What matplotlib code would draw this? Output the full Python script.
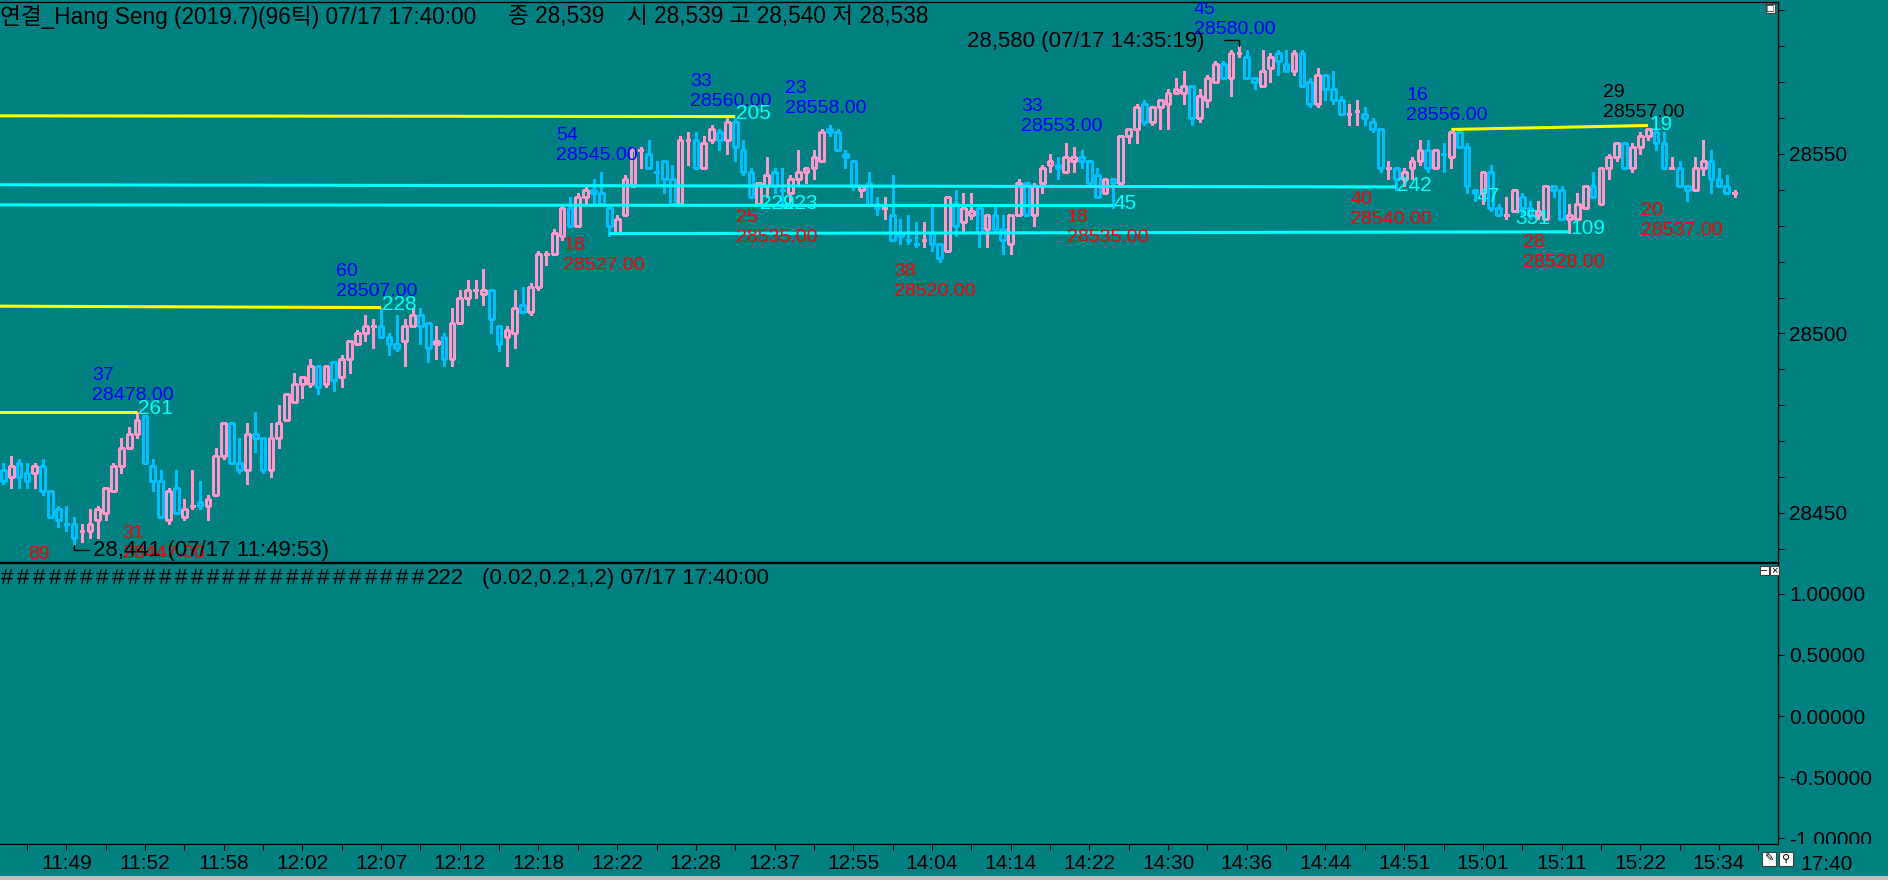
import matplotlib
matplotlib.use('Agg')
import matplotlib.pyplot as plt
from matplotlib.patches import Rectangle
from matplotlib.collections import LineCollection, PatchCollection
from matplotlib.ticker import FixedLocator, MultipleLocator, FormatStrFormatter
import numpy as np

plt.rcParams['font.family'] = ['Liberation Sans', 'Noto Sans CJK KR', 'DejaVu Sans']

# ---- 96-tick candles ----
opens = [28462, 28460, 28464, 28461, 28461, 28463, 28456, 28451, 28447, 28447,
         28445, 28445, 28448, 28450, 28456, 28463, 28468, 28472, 28477, 28463,
         28459, 28448, 28457, 28449, 28452, 28453, 28452, 28455, 28466, 28475,
         28464, 28462, 28472, 28471, 28462, 28471, 28476, 28481, 28486, 28486,
         28491, 28486, 28492, 28488, 28493, 28497, 28500, 28502, 28502, 28499,
         28497, 28498, 28502, 28505, 28503, 28497, 28499, 28493, 28503, 28510,
         28512, 28511, 28512, 28502, 28499, 28500, 28508, 28506, 28513, 28522,
         28522, 28527, 28535, 28530, 28538, 28540, 28539, 28535, 28528, 28533,
         28541, 28551, 28550, 28545, 28548, 28543, 28536, 28554, 28554, 28546,
         28554, 28556, 28554, 28559, 28551, 28545, 28536, 28541, 28545, 28540,
         28539, 28543, 28545, 28546, 28548, 28557, 28556, 28550, 28548, 28540,
         28542, 28536, 28535, 28533, 28528, 28526, 28525, 28526, 28528, 28525,
         28523, 28536, 28531, 28533, 28535, 28529, 28533, 28529, 28525, 28533,
         28542, 28533, 28542, 28547, 28547, 28545, 28548, 28549, 28548, 28544,
         28539, 28543, 28542, 28555, 28557, 28564, 28559, 28563, 28564, 28567,
         28567, 28569, 28560, 28565, 28570, 28575, 28571, 28578, 28577, 28571,
         28569, 28574, 28578, 28575, 28573, 28578, 28570, 28564, 28572, 28568,
         28565, 28561, 28562, 28561, 28559, 28557, 28546, 28546, 28543, 28546,
         28548, 28551, 28546, 28550, 28549, 28556, 28552, 28540, 28539, 28545,
         28535, 28533, 28534, 28538, 28535, 28533, 28532, 28541, 28540, 28532,
         28532, 28535, 28541, 28536, 28546, 28549, 28553, 28546, 28552, 28555,
         28556, 28553, 28546, 28546, 28541, 28540, 28546, 28548, 28543, 28541,
         28539]
highs = [28464, 28466, 28465, 28464, 28464, 28465, 28456, 28452, 28452, 28449,
         28447, 28451, 28452, 28457, 28464, 28471, 28474, 28478, 28477, 28465,
         28462, 28457, 28462, 28454, 28462, 28459, 28455, 28468, 28475, 28475,
         28471, 28475, 28478, 28471, 28475, 28480, 28483, 28489, 28488, 28493,
         28491, 28491, 28492, 28494, 28498, 28501, 28505, 28504, 28507, 28500,
         28505, 28504, 28507, 28507, 28503, 28502, 28500, 28507, 28512, 28515,
         28515, 28518, 28512, 28502, 28502, 28512, 28513, 28514, 28523, 28523,
         28529, 28536, 28538, 28539, 28541, 28543, 28545, 28536, 28533, 28544,
         28552, 28552, 28554, 28548, 28548, 28547, 28555, 28556, 28556, 28555,
         28558, 28557, 28560, 28560, 28554, 28546, 28542, 28549, 28546, 28546,
         28544, 28551, 28546, 28551, 28557, 28558, 28557, 28551, 28548, 28541,
         28545, 28538, 28538, 28544, 28532, 28533, 28531, 28531, 28536, 28525,
         28538, 28540, 28539, 28539, 28535, 28533, 28536, 28533, 28533, 28543,
         28542, 28542, 28547, 28550, 28549, 28553, 28552, 28551, 28548, 28546,
         28543, 28543, 28555, 28557, 28564, 28565, 28563, 28565, 28568, 28571,
         28573, 28569, 28568, 28572, 28576, 28576, 28579, 28580, 28579, 28571,
         28579, 28578, 28579, 28579, 28579, 28579, 28571, 28574, 28572, 28573,
         28566, 28564, 28565, 28563, 28560, 28557, 28548, 28546, 28546, 28549,
         28554, 28554, 28551, 28553, 28556, 28556, 28553, 28540, 28545, 28547,
         28536, 28538, 28540, 28539, 28537, 28537, 28541, 28541, 28541, 28536,
         28539, 28541, 28545, 28546, 28550, 28553, 28553, 28553, 28556, 28557,
         28557, 28556, 28549, 28548, 28541, 28549, 28554, 28551, 28546, 28544,
         28540]
lows = [28458, 28457, 28457, 28457, 28457, 28455, 28449, 28446, 28445, 28441,
        28442, 28443, 28443, 28448, 28456, 28461, 28468, 28471, 28464, 28456,
        28449, 28447, 28450, 28448, 28451, 28451, 28448, 28455, 28465, 28464,
        28461, 28458, 28467, 28461, 28460, 28468, 28476, 28481, 28482, 28485,
        28483, 28485, 28484, 28485, 28489, 28497, 28498, 28496, 28499, 28494,
        28495, 28491, 28502, 28497, 28492, 28493, 28491, 28491, 28503, 28508,
        28510, 28508, 28500, 28495, 28491, 28496, 28506, 28505, 28512, 28519,
        28522, 28526, 28530, 28530, 28536, 28536, 28536, 28527, 28528, 28533,
        28541, 28546, 28546, 28542, 28539, 28536, 28536, 28547, 28546, 28546,
        28553, 28551, 28550, 28548, 28544, 28538, 28536, 28538, 28539, 28535,
        28537, 28541, 28542, 28543, 28548, 28555, 28551, 28546, 28540, 28538,
        28536, 28533, 28532, 28526, 28525, 28525, 28524, 28524, 28523, 28520,
        28523, 28527, 28528, 28532, 28524, 28524, 28528, 28522, 28522, 28533,
        28533, 28530, 28539, 28545, 28543, 28545, 28545, 28546, 28542, 28538,
        28539, 28535, 28542, 28553, 28553, 28558, 28558, 28557, 28557, 28567,
        28564, 28558, 28559, 28563, 28570, 28571, 28566, 28577, 28571, 28568,
        28569, 28570, 28572, 28573, 28572, 28569, 28563, 28563, 28565, 28564,
        28561, 28558, 28558, 28558, 28556, 28545, 28543, 28540, 28541, 28543,
        28547, 28545, 28546, 28545, 28546, 28552, 28539, 28537, 28536, 28534,
        28533, 28532, 28534, 28533, 28532, 28532, 28532, 28538, 28532, 28528,
        28532, 28535, 28538, 28536, 28543, 28548, 28546, 28545, 28550, 28554,
        28551, 28546, 28546, 28541, 28537, 28540, 28544, 28539, 28541, 28540,
        28538]
closes = [28459, 28463, 28460, 28459, 28463, 28456, 28449, 28448, 28447, 28443,
          28445, 28447, 28451, 28457, 28463, 28468, 28472, 28476, 28464, 28459,
          28449, 28456, 28450, 28451, 28452, 28452, 28454, 28466, 28475, 28464,
          28462, 28472, 28471, 28462, 28471, 28475, 28483, 28486, 28488, 28491,
          28485, 28491, 28487, 28493, 28498, 28500, 28502, 28502, 28499, 28497,
          28496, 28502, 28505, 28502, 28496, 28498, 28493, 28503, 28510, 28512,
          28512, 28512, 28504, 28497, 28501, 28507, 28506, 28513, 28522, 28522,
          28528, 28535, 28530, 28538, 28540, 28539, 28536, 28530, 28532, 28543,
          28551, 28551, 28546, 28545, 28543, 28536, 28554, 28554, 28546, 28553,
          28557, 28554, 28559, 28552, 28545, 28538, 28542, 28544, 28541, 28540,
          28543, 28545, 28546, 28549, 28556, 28556, 28551, 28549, 28541, 28541,
          28536, 28535, 28535, 28526, 28527, 28526, 28525, 28526, 28525, 28521,
          28538, 28530, 28535, 28534, 28528, 28533, 28529, 28526, 28533, 28542,
          28533, 28541, 28546, 28548, 28546, 28549, 28549, 28548, 28542, 28538,
          28543, 28542, 28555, 28557, 28563, 28559, 28563, 28565, 28567, 28568,
          28569, 28560, 28566, 28571, 28575, 28571, 28578, 28578, 28571, 28570,
          28573, 28577, 28576, 28573, 28578, 28569, 28564, 28572, 28568, 28565,
          28561, 28561, 28562, 28560, 28557, 28546, 28546, 28543, 28545, 28548,
          28551, 28546, 28551, 28550, 28556, 28552, 28541, 28539, 28545, 28535,
          28533, 28533, 28540, 28535, 28533, 28534, 28541, 28540, 28532, 28533,
          28536, 28541, 28538, 28546, 28549, 28553, 28546, 28552, 28555, 28557,
          28553, 28546, 28546, 28541, 28540, 28546, 28548, 28543, 28541, 28539,
          28539]

time_labels = ['11:49', '11:52', '11:58', '12:02', '12:07', '12:12', '12:18', '12:22',
               '12:28', '12:37', '12:55', '14:04', '14:14', '14:22', '14:30', '14:36',
               '14:44', '14:51', '15:01', '15:11', '15:22', '15:34']
time_label_idx = list(range(8, 219, 10))

# pivot lines: (start bar, start price, end bar, end price)
yellow_lines = [(-0.5, 28478.0, 17, 28478.0), (-0.5, 28507.6, 48, 28507.2),
                (-0.5, 28560.6, 93, 28560.4), (184, 28556.8, 209, 28557.9)]
cyan_lines = [(-0.5, 28541.4, 177, 28540.8), (-0.5, 28535.8, 141, 28535.6),
              (77, 28527.8, 199, 28528.3)]

# pivot labels: (bar, price, count)
high_labels = [(17, 28478, '37'), (48, 28507, '60'), (76, 28545, '54'), (93, 28560, '33'),
               (105, 28558, '23'), (135, 28553, '33'), (157, 28580, '45'), (184, 28556, '16')]
last_high_label = (209, 28557, '29')
low_labels = [(9, 28441, '89'), (21, 28447, '31'), (77, 28527, '18'), (99, 28535, '25'),
              (119, 28520, '38'), (141, 28535, '18'), (177, 28540, '40'), (199, 28528, '28'),
              (214, 28537, '20')]
line_counts = [(17, 28478, '261'), (48, 28507, '228'), (93, 28560, '205'), (96, 28535, '229'),
               (99, 28535, '223'), (141, 28535, '45'), (177, 28540, '242'), (187, 28537, '47'),
               (192, 28531, '351'), (199, 28528, '109'), (209, 28557, '19')]

TEAL = '#008080'
PINK = '#FF99CC'
BLUE = '#00BFFF'

W, H = 1888, 880
def fx(px):
    return px / W
def fy(py):
    return 1 - py / H

fig = plt.figure(figsize=(W / 100, H / 100), dpi=100, facecolor=TEAL)
ax = fig.add_axes([0, fy(562), fx(1778), 560 / H], facecolor=TEAL)
ax2 = fig.add_axes([0, fy(844), fx(1778), 281 / H], facecolor=TEAL, sharex=ax)

# candles
n = len(opens)
w = 0.6
bodies, body_cols, segs, seg_cols = [], [], [], []
for i in range(n):
    o, h, l, c = opens[i], highs[i], lows[i], closes[i]
    if c > o:
        col = PINK
    elif c < o:
        col = BLUE
    else:
        col = PINK if i == 0 or c >= closes[i - 1] else BLUE
    top, bot = max(o, c), min(o, c)
    if top == bot:
        segs.append([(i - w / 2, top), (i + w / 2, top)])
        seg_cols.append(col)
    else:
        bodies.append(Rectangle((i - w / 2, bot), w, top - bot))
        body_cols.append(col)
    if h > top:
        segs.append([(i, top), (i, h)])
        seg_cols.append(col)
    if l < bot:
        segs.append([(i, l), (i, bot)])
        seg_cols.append(col)

ax.add_collection(LineCollection(segs, colors=seg_cols, linewidths=0.8, antialiaseds=False, zorder=2))
ax.add_collection(PatchCollection(bodies, facecolors='none', edgecolors=body_cols,
                                  linewidths=0.8, antialiaseds=False, zorder=2))

for x0, p0, x1, p1 in yellow_lines:
    ax.plot([x0, x1], [p0, p1], color='#FFFF00', lw=2.2, solid_capstyle='butt', zorder=3)
for x0, p0, x1, p1 in cyan_lines:
    ax.plot([x0, x1], [p0, p1], color='#00FFFF', lw=2.2, solid_capstyle='butt', zorder=3)

lab = dict(textcoords='offset pixels', fontsize=14, clip_on=True, zorder=5)
for i, p, cnt in high_labels:
    ax.annotate(f'{p:.2f}', (i, p), xytext=(-45, 8), ha='left', va='bottom', color='#0000FF', **lab)
    ax.annotate(cnt, (i, p), xytext=(-45, 28), ha='left', va='bottom', color='#0000FF', **lab)
i, p, cnt = last_high_label
ax.annotate(f'{p:.2f}', (i, p), xytext=(-45, 8), ha='left', va='bottom', color='black', **lab)
ax.annotate(cnt, (i, p), xytext=(-45, 28), ha='left', va='bottom', color='black', **lab)
for i, p, cnt in low_labels:
    ax.annotate(cnt, (i, p), xytext=(-46, -1), ha='left', va='top', color='#FF0000', **lab)
    ax.annotate(f'{p:.2f}', (i, p), xytext=(-46, -21), ha='left', va='top', color='#FF0000', **lab)
for i, p, cnt in line_counts:
    ax.annotate(cnt, (i, p), xytext=(1, 4), ha='left', va='center', color='#00FFFF',
                textcoords='offset pixels', fontsize=15, clip_on=True, zorder=5)

# extreme markers
hi_i = int(np.argmax(highs))
lo_i = int(np.argmin(lows))
ax.annotate(f'{highs[hi_i]:,} (07/17 14:35:19)', (hi_i, highs[hi_i]), xytext=(-34, 5),
            textcoords='offset pixels', ha='right', va='center', fontsize=16, zorder=5)
ax.annotate('', (hi_i, highs[hi_i]), xytext=(-15, 6), textcoords='offset pixels',
            arrowprops=dict(arrowstyle='-', color='black', lw=1, shrinkA=0, shrinkB=0,
                            connectionstyle='angle,angleA=0,angleB=90,rad=0'))
ax.annotate(f'{lows[lo_i]:,} (07/17 11:49:53)', (lo_i, lows[lo_i]), xytext=(19, -5),
            textcoords='offset pixels', ha='left', va='center', fontsize=16, zorder=5)
ax.annotate('', (lo_i, lows[lo_i]), xytext=(15, -5), textcoords='offset pixels',
            arrowprops=dict(arrowstyle='-', color='black', lw=1, shrinkA=0, shrinkB=0,
                            connectionstyle='angle,angleA=0,angleB=90,rad=0'))

# axes styling
ax.set_xlim(-0.42, 225.5)
ax.set_ylim(28436.35, 28592.3)
ax2.set_ylim(-1.049, 1.254)
for a in (ax, ax2):
    a.spines['left'].set_visible(False)
    for s in ('top', 'right', 'bottom'):
        a.spines[s].set_color('black')
        a.spines[s].set_linewidth(1)
    a.yaxis.tick_right()
    a.tick_params(axis='y', which='both', direction='out', length=4, width=0.8,
                  labelsize=15, pad=4, colors='black')
ax.set_yticks([28450, 28500, 28550])
ax.yaxis.set_minor_locator(MultipleLocator(10))
ax.tick_params(axis='x', which='both', bottom=False, labelbottom=False)

ax2.set_yticks([1.0, 0.5, 0.0, -0.5, -1.0])
ax2.yaxis.set_major_formatter(FormatStrFormatter('%.5f'))
ax2.set_xticks(time_label_idx)
ax2.set_xticklabels(time_labels)
ax2.xaxis.set_minor_locator(FixedLocator(range(3, 224, 10)))
ax2.tick_params(axis='x', which='both', direction='out', length=4, width=0.8,
                labelsize=15, pad=3, colors='black')

# the lowest scale label is cut by the panel edge
fig.patches.append(Rectangle((fx(1779), fy(851)), 109 / W, 7.5 / H, transform=fig.transFigure,
                             facecolor=TEAL, lw=0, zorder=3))

# header texts
fig.text(fx(0), fy(17), '연결_Hang Seng (2019.7)(96틱) 07/17 17:40:00', fontsize=16.3, va='center')
fig.text(fx(508), fy(17), '종 28,539', fontsize=16.3, va='center')
fig.text(fx(627), fy(17), '시 28,539 고 28,540 저 28,538', fontsize=16.3, va='center')
for k in range(27):
    fig.text(fx(1 + k * 15.8), fy(578), '#', fontsize=16, va='center')
fig.text(fx(427), fy(578), '222', fontsize=16, va='center')
fig.text(fx(482), fy(578), '(0.02,0.2,1,2) 07/17 17:40:00', fontsize=16, va='center')
fig.text(fx(1827), fy(864), '17:40', fontsize=15, ha='center', va='center')

# small window buttons
def button(x, y, s, glyph):
    fig.patches.append(Rectangle((fx(x), fy(y + s)), s / W, s / H, transform=fig.transFigure,
                                 facecolor='white', edgecolor='#404040', lw=0.8, zorder=4))
    fig.text(fx(x + s / 2), fy(y + s / 2), glyph, fontsize=8, ha='center', va='center', zorder=5)
button(1766, 4, 9, '□')
button(1760, 566, 9, '–')
button(1770, 566, 9, '×')
button(1762, 852, 14, '✎')
button(1779, 852, 14, '⚲')
fig.patches.append(Rectangle((0, 0), 1, 4 / H, transform=fig.transFigure, facecolor='#c0c0c0', lw=0))

fig.savefig('out.png', dpi=100, facecolor=TEAL)
